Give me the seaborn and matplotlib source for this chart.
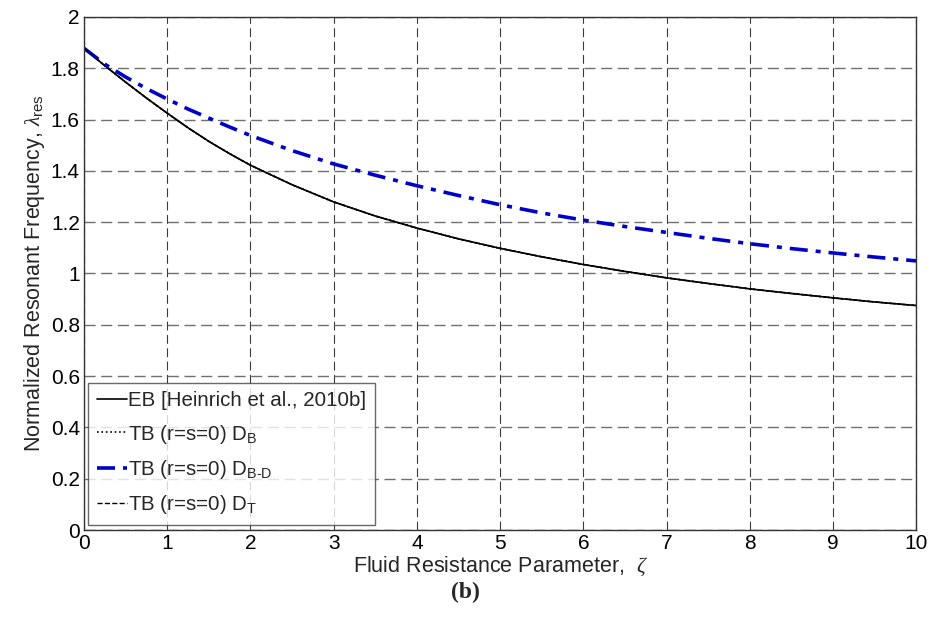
import matplotlib
matplotlib.use("Agg")

import numpy as np
import matplotlib.pyplot as plt
import seaborn as sns

# =====================
# DATA
# =====================
zeta = [0, 0.25, 0.5, 0.75, 1, 1.25, 1.5, 1.75, 2, 2.5, 3, 3.5, 4, 4.5, 5,
        5.5, 6, 6.5, 7, 7.5, 8, 8.5, 9, 9.5, 10]

eb = [1.878, 1.810, 1.746, 1.684, 1.625, 1.568, 1.515, 1.467, 1.422, 1.346, 1.279,
      1.224, 1.177, 1.135, 1.098, 1.065, 1.035, 1.008, 0.983, 0.961, 0.940, 0.922,
      0.905, 0.889, 0.875]

tb_bd = [1.878, 1.816, 1.766, 1.721, 1.680, 1.641, 1.606, 1.571, 1.538, 1.479, 1.427,
         1.383, 1.342, 1.304, 1.268, 1.236, 1.208, 1.183, 1.160, 1.137, 1.116, 1.097,
         1.080, 1.064, 1.049]

# D_B and D_T lie on top of the EB curve in the figure
tb_b = eb
tb_t = eb

labels = [
    "EB [Heinrich et al., 2010b]",
    "TB (r=s=0) D$_{\\mathrm{B}}$",
    "TB (r=s=0) D$_{\\mathrm{B\\text{-}D}}$",
    "TB (r=s=0) D$_{\\mathrm{T}}$",
]

xticks = [0, 1, 2, 3, 4, 5, 6, 7, 8, 9, 10]
yticks = [0, 0.2, 0.4, 0.6, 0.8, 1, 1.2, 1.4, 1.6, 1.8, 2]

# =====================
# STYLE
# =====================
sns.set_style("white")
plt.rcParams["font.family"] = ["Liberation Sans", "DejaVu Sans"]
plt.rcParams["mathtext.fontset"] = "custom"
plt.rcParams["mathtext.rm"] = "Liberation Sans"
plt.rcParams["mathtext.it"] = "Liberation Serif:italic"

fig = plt.figure(figsize=(9.3, 6.17), dpi=100)
ax = fig.add_axes([0.0903, 0.141, 0.895, 0.8315])

# =====================
# LINES
# =====================
sns.lineplot(x=zeta, y=eb, ax=ax, color="black", linewidth=1.2, label=labels[0])
sns.lineplot(x=zeta, y=tb_b, ax=ax, color="black", linewidth=1.2, linestyle=":", label=labels[1])
sns.lineplot(x=zeta, y=tb_bd, ax=ax, color="#0000c8", linewidth=2.6, label=labels[2])
ax.lines[-1].set_dashes([5, 2.2, 1.4, 2.2])
sns.lineplot(x=zeta, y=tb_t, ax=ax, color="black", linewidth=1.0, linestyle="--", label=labels[3])

# =====================
# AXES
# =====================
ax.set_xlim(0, 10)
ax.set_ylim(0, 2)
ax.set_xticks(xticks)
ax.set_yticks(yticks)
ax.set_xticklabels([f"{v:g}" for v in xticks])
ax.set_yticklabels([f"{v:g}" for v in yticks])
ax.tick_params(direction="in", length=4, labelsize=15, colors="black", pad=3)

ax.xaxis.grid(True, linestyle=(0, (8, 4)), color="#3a3a3a", linewidth=0.8)
ax.yaxis.grid(True, linestyle=(0, (8, 4)), color="#707070", linewidth=1.0)
for s in ax.spines.values():
    s.set_color("#333333")
    s.set_linewidth(1.0)

ax.set_xlabel("Fluid Resistance Parameter,  $\\zeta$", fontsize=15.5, labelpad=1)
ax.set_ylabel("Normalized Resonant Frequency, $\\lambda_{\\mathrm{res}}$", fontsize=15.5,
              labelpad=3)

leg = ax.legend(loc="lower left", bbox_to_anchor=(0.005, 0.01), borderaxespad=0,
                fontsize=14.8, handlelength=1.45, handletextpad=0.08, labelspacing=0.6,
                frameon=True, fancybox=False, edgecolor="#444444", borderpad=0.42)
leg.get_frame().set_linewidth(1.0)

fig.text(0.5, 0.04, "(b)", ha="center", va="center", fontsize=17, fontweight="bold",
         family="Liberation Serif")

fig.savefig("out.png", dpi=100)
plt.close(fig)
